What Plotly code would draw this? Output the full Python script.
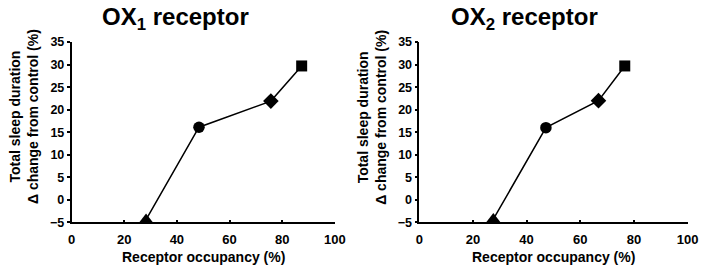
import plotly.graph_objects as go

W, H = 709, 271

# Data
ox1_occupancy = [28.3, 48.4, 75.7, 87.4]
ox1_sleep_change = [-4.4, 16.1, 21.9, 29.7]
ox2_occupancy = [27.6, 47.2, 66.8, 76.6]
ox2_sleep_change = [-4.3, 16.0, 22.0, 29.7]
marker_symbols = ["triangle-up", "circle", "diamond", "square"]
marker_sizes = [12, 11.5, 12, 11]
titles = ["OX<sub>1</sub> receptor", "OX<sub>2</sub> receptor"]
x_ticks = [0, 20, 40, 60, 80, 100]
y_ticks = [-5, 0, 5, 10, 15, 20, 25, 30, 35]
x_title = "Receptor occupancy (%)"
y_title = "Total sleep duration<br>Δ change from control (%)"

FONT = "Arial, Liberation Sans, sans-serif"

fig = go.Figure()

# pixel geometry
left_px = [(69, 338), (424.3, 698.3)]
title_cx = [175, 531.5]
top_px, bot_px = 37, 227

for i, (xs, ys) in enumerate([(ox1_occupancy, ox1_sleep_change), (ox2_occupancy, ox2_sleep_change)]):
    xa = "x" if i == 0 else "x2"
    ya = "y" if i == 0 else "y2"
    fig.add_trace(go.Scatter(
        x=xs, y=ys, mode="lines+markers", xaxis=xa, yaxis=ya,
        line=dict(color="black", width=1.5),
        marker=dict(symbol=marker_symbols, size=marker_sizes, color="black",
                    opacity=1, line=dict(color="black", width=0)),
        showlegend=False, cliponaxis=False,
    ))

axis_common = dict(
    showgrid=False, zeroline=False, showline=True, linecolor="black", linewidth=1.5,
    tickcolor="black", ticklen=3, tickwidth=1.5,
)

for i in range(2):
    x0, x1 = left_px[i]
    suffix = "" if i == 0 else "2"
    fig.update_layout(**{
        f"xaxis{suffix}": dict(
            domain=[x0 / W, x1 / W], range=[0, 100], tickvals=x_ticks,
            ticks="inside", anchor=f"y{suffix}", ticklabelstandoff=4,
            tickfont=dict(family=FONT, size=13, color="black", weight="bold"),
            **axis_common,
        ),
        f"yaxis{suffix}": dict(
            domain=[1 - bot_px / H, 1 - top_px / H], range=[-5, 35], tickvals=y_ticks,
            ticks="outside", anchor=f"x{suffix}",
            tickfont=dict(family=FONT, size=12.5, color="black", weight="bold"),
            **axis_common,
        ),
    })
    # panel title
    fig.add_annotation(
        text=titles[i], x=title_cx[i] / W, y=1 - 12 / H, xref="paper", yref="paper",
        showarrow=False, xanchor="center", yanchor="middle",
        font=dict(family=FONT, size=24, color="black", weight="bold"),
    )
    # x title
    fig.add_annotation(
        text=x_title, x=(x0 + x1) / 2 / W, y=1 - 263.5 / H, xref="paper", yref="paper",
        showarrow=False, xanchor="center", yanchor="middle",
        font=dict(family=FONT, size=14, color="black", weight="bold"),
    )
    # y title (two lines, rotated)
    fig.add_annotation(
        text=y_title, x=(x0 - 48.5) / W, y=1 - 116 / H, xref="paper", yref="paper",
        showarrow=False, xanchor="center", yanchor="middle", textangle=-90,
        font=dict(family=FONT, size=14, color="black", weight="bold"),
    )

fig.update_layout(
    width=W, height=H, margin=dict(l=0, r=0, t=0, b=0),
    paper_bgcolor="white", plot_bgcolor="white",
)

fig.write_html("out.html")
